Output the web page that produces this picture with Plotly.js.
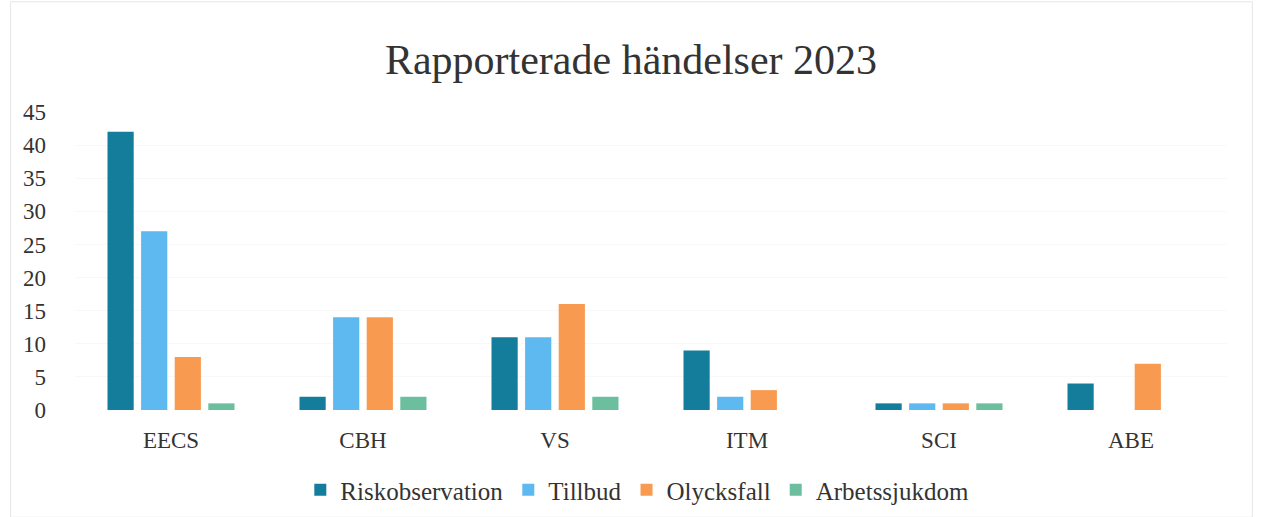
<!DOCTYPE html>
<html>
<head>
<meta charset="utf-8">
<script src="https://cdn.plot.ly/plotly-3.0.1.min.js"></script>
<style>
  html, body { margin: 0; padding: 0; background: #ffffff; }
  #chart { width: 1262px; height: 517px; }
</style>
</head>
<body>
<div id="chart"></div>
<script>
const categories = ["EECS", "CBH", "VS", "ITM", "SCI", "ABE"];
const riskobservation = [42, 2, 11, 9, 1, 4];
const tillbud = [27, 14, 11, 2, 1, 0];
const olycksfall = [8, 14, 16, 3, 1, 7];
const arbetssjukdom = [1, 2, 2, 0, 1, 0];
const yTicks = [0, 5, 10, 15, 20, 25, 30, 35, 40, 45];

const seriesNames = ["Riskobservation", "Tillbud", "Olycksfall", "Arbetssjukdom"];
const seriesValues = [riskobservation, tillbud, olycksfall, arbetssjukdom];
const seriesColors = ["#137D9B", "#5DB9EF", "#F89A4F", "#6BBF9E"];

const font = "'Liberation Serif', 'DejaVu Serif', serif";

const data = seriesNames.map((name, i) => ({
  type: "bar",
  name: name,
  x: categories,
  y: seriesValues[i],
  marker: { color: seriesColors[i] },
  hoverinfo: "x+y+name"
}));

const layout = {
  width: 1262,
  height: 517,
  paper_bgcolor: "#ffffff",
  plot_bgcolor: "#ffffff",
  margin: { l: 75, r: 35, t: 112, b: 107 },
  title: {
    text: "Rapporterade händelser 2023",
    font: { family: font, size: 42, color: "#333333" },
    x: 0.5,
    xanchor: "center",
    xref: "container",
    y: 0.885,
    yanchor: "middle"
  },
  barmode: "group",
  bargap: 0.3,
  bargroupgap: 0.22,
  xaxis: {
    type: "category",
    tickfont: { family: font, size: 23, color: "#333333" },
    showline: false,
    showgrid: false,
    zeroline: false,
    ticks: "",
    ticklabelstandoff: 14
  },
  yaxis: {
    range: [0, 45],
    tickvals: yTicks,
    ticktext: yTicks.map(String),
    tickfont: { family: font, size: 23, color: "#333333" },
    showgrid: true,
    gridcolor: "#f8f8f8",
    zeroline: false,
    showline: false,
    ticks: "",
    ticklabelstandoff: 28
  },
  legend: {
    orientation: "h",
    x: 0.505,
    xanchor: "center",
    xref: "container",
    yref: "container",
    y: 0.052,
    yanchor: "middle",
    font: { family: font, size: 25, color: "#333333" },
    itemwidth: 30,
    tracegroupgap: 0
  },
  shapes: [{
    type: "rect",
    xref: "paper", yref: "paper",
    x0: -0.056, x1: 1.022,
    y0: -0.36, y1: 1.37,
    line: { color: "#e6e6e6", width: 1 },
    fillcolor: "rgba(0,0,0,0)",
    layer: "below"
  }],
  showlegend: true
};

Plotly.newPlot("chart", data, layout, { displayModeBar: false, staticPlot: true });
</script>
</body>
</html>
